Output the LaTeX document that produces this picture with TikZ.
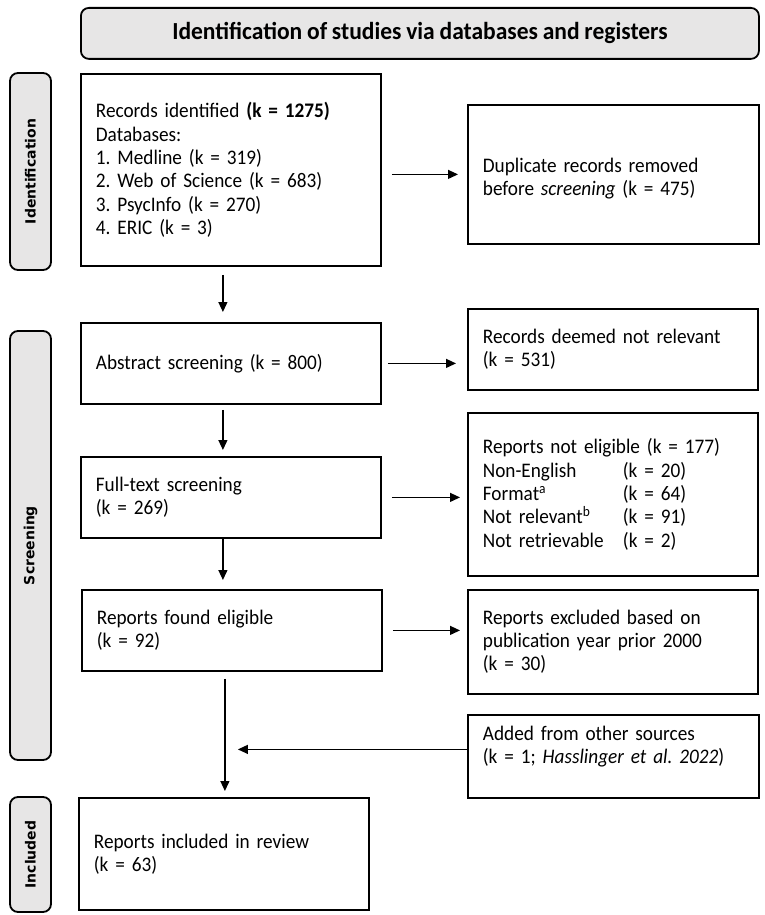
\documentclass[tikz,border=0pt]{standalone}
\usepackage{fontspec}
\setmainfont{Carlito}[FakeStretch=0.93, WordSpace=0.85]
\newfontfamily\headfont{Carlito}[FakeStretch=0.96, WordSpace=0.9]
\newfontfamily\sidefont{DejaVu Sans}
\usetikzlibrary{arrows.meta}
\definecolor{stagegray}{HTML}{E7E6E6}
\frenchspacing

\begin{document}
\begin{tikzpicture}[x=1pt, y=-1pt,
    box/.style={draw, line width=1.8pt, anchor=north west, inner sep=0pt, align=left,
      font=\fontsize{20.7}{23.3}\selectfont},
    stage/.style={draw, line width=1.8pt, fill=stagegray, rounded corners=8pt},
    side/.style={stage, rotate=90, minimum height=41pt, font=\sidefont\bfseries\fontsize{14}{16}\selectfont},
    arr/.style={line width=1.2pt, -{Triangle[length=10pt, width=9pt]}}]
  \useasboundingbox (0,0) rectangle (765,915);

  \node[stage, anchor=north west, minimum width=678pt, minimum height=51pt,
    font=\headfont\bfseries\fontsize{24.5}{28}\selectfont] (head) at (80,7)
    {Identification of studies via databases and registers};

  \node[side, minimum width=197pt] (idlab) at (30.5,171.5) {Identification};
  \node[side, minimum width=429pt] (scrlab) at (30.5,545.5) {Screening};
  \node[side, minimum width=115pt] (inclab) at (30.5,854.5) {Included};

  \node[box, minimum width=300pt, minimum height=192pt, text width=270pt] (records) at (80,73)
    {Records identified \textbf{(k = 1275)}\\Databases:\\1. Medline (k = 319)\\2. Web of Science (k = 683)\\3. PsycInfo (k = 270)\\4. ERIC (k = 3)};
  \node[box, minimum width=291pt, minimum height=139pt, text width=261pt] (dup) at (467,104)
    {\mbox{}\\Duplicate records removed\\before \textit{screening} (k = 475)};

  \node[box, minimum width=300pt, minimum height=81pt, text width=270pt] (abstract) at (80,322)
    {Abstract screening (k = 800)};
  \node[box, minimum width=290pt, minimum height=81pt, text width=260pt] (notrel) at (467,308)
    {Records deemed not relevant\\(k = 531)};

  \node[box, minimum width=300pt, minimum height=81pt, text width=270pt] (full) at (80,456)
    {Full-text screening\\(k = 269)};
  \node[box, minimum width=290pt, minimum height=163pt, text width=260pt] (notelig) at (467,412)
    {Reports not eligible (k = 177)\\
     \makebox[140pt][l]{Non-English}(k = 20)\\
     \makebox[140pt][l]{Format\textsuperscript{a}}(k = 64)\\
     \makebox[140pt][l]{Not relevant\textsuperscript{b}}(k = 91)\\
     \makebox[140pt][l]{Not retrievable}(k = 2)};

  \node[box, minimum width=300pt, minimum height=81pt, text width=270pt] (eligible) at (81,589)
    {Reports found eligible\\(k = 92)};
  \node[box, minimum width=290pt, minimum height=104pt, text width=260pt] (excluded) at (467,589)
    {Reports excluded based on\\publication year prior 2000\\(k = 30)};

  \node[box, minimum width=291pt, minimum height=83pt, text width=261pt] (added) at (467,714)
    {Added from other sources\\(k = 1; \textit{Hasslinger et al. 2022})\\\mbox{}};

  \node[box, minimum width=290pt, minimum height=112pt, text width=260pt] (included) at (78,797)
    {Reports included in review\\(k = 63)};

  \coordinate (mid) at ([xshift=-7pt]eligible.south);

  \draw[arr, shorten <=10pt, shorten >=9pt] (records.east |- dup.west) -- (dup.west);
  \draw[arr, shorten <=8pt, shorten >=10pt] ([xshift=-8pt]records.south) -- ([xshift=-8pt]records.south |- abstract.north);
  \draw[arr, shorten <=6pt, shorten >=11pt] (abstract.east) -- (abstract.east -| notrel.west);
  \draw[arr, shorten <=5pt, shorten >=6pt] ([xshift=-8pt]abstract.south) -- ([xshift=-8pt]abstract.south |- full.north);
  \draw[arr, shorten <=10pt, shorten >=7pt] (full.east) -- (full.east -| notelig.west);
  \draw[arr, shorten >=9pt] ([xshift=-8pt]full.south) -- ([xshift=-8pt]full.south |- eligible.north);
  \draw[arr, shorten <=10pt, shorten >=7pt] (eligible.east) -- (eligible.east -| excluded.west);
  \draw[arr, shorten <=7pt, shorten >=6pt] (mid) -- (mid |- included.north);
  \draw[arr, shorten >=13pt] ([yshift=7pt]added.west) -- ([yshift=7pt]added.west -| mid);
\end{tikzpicture}
\end{document}
